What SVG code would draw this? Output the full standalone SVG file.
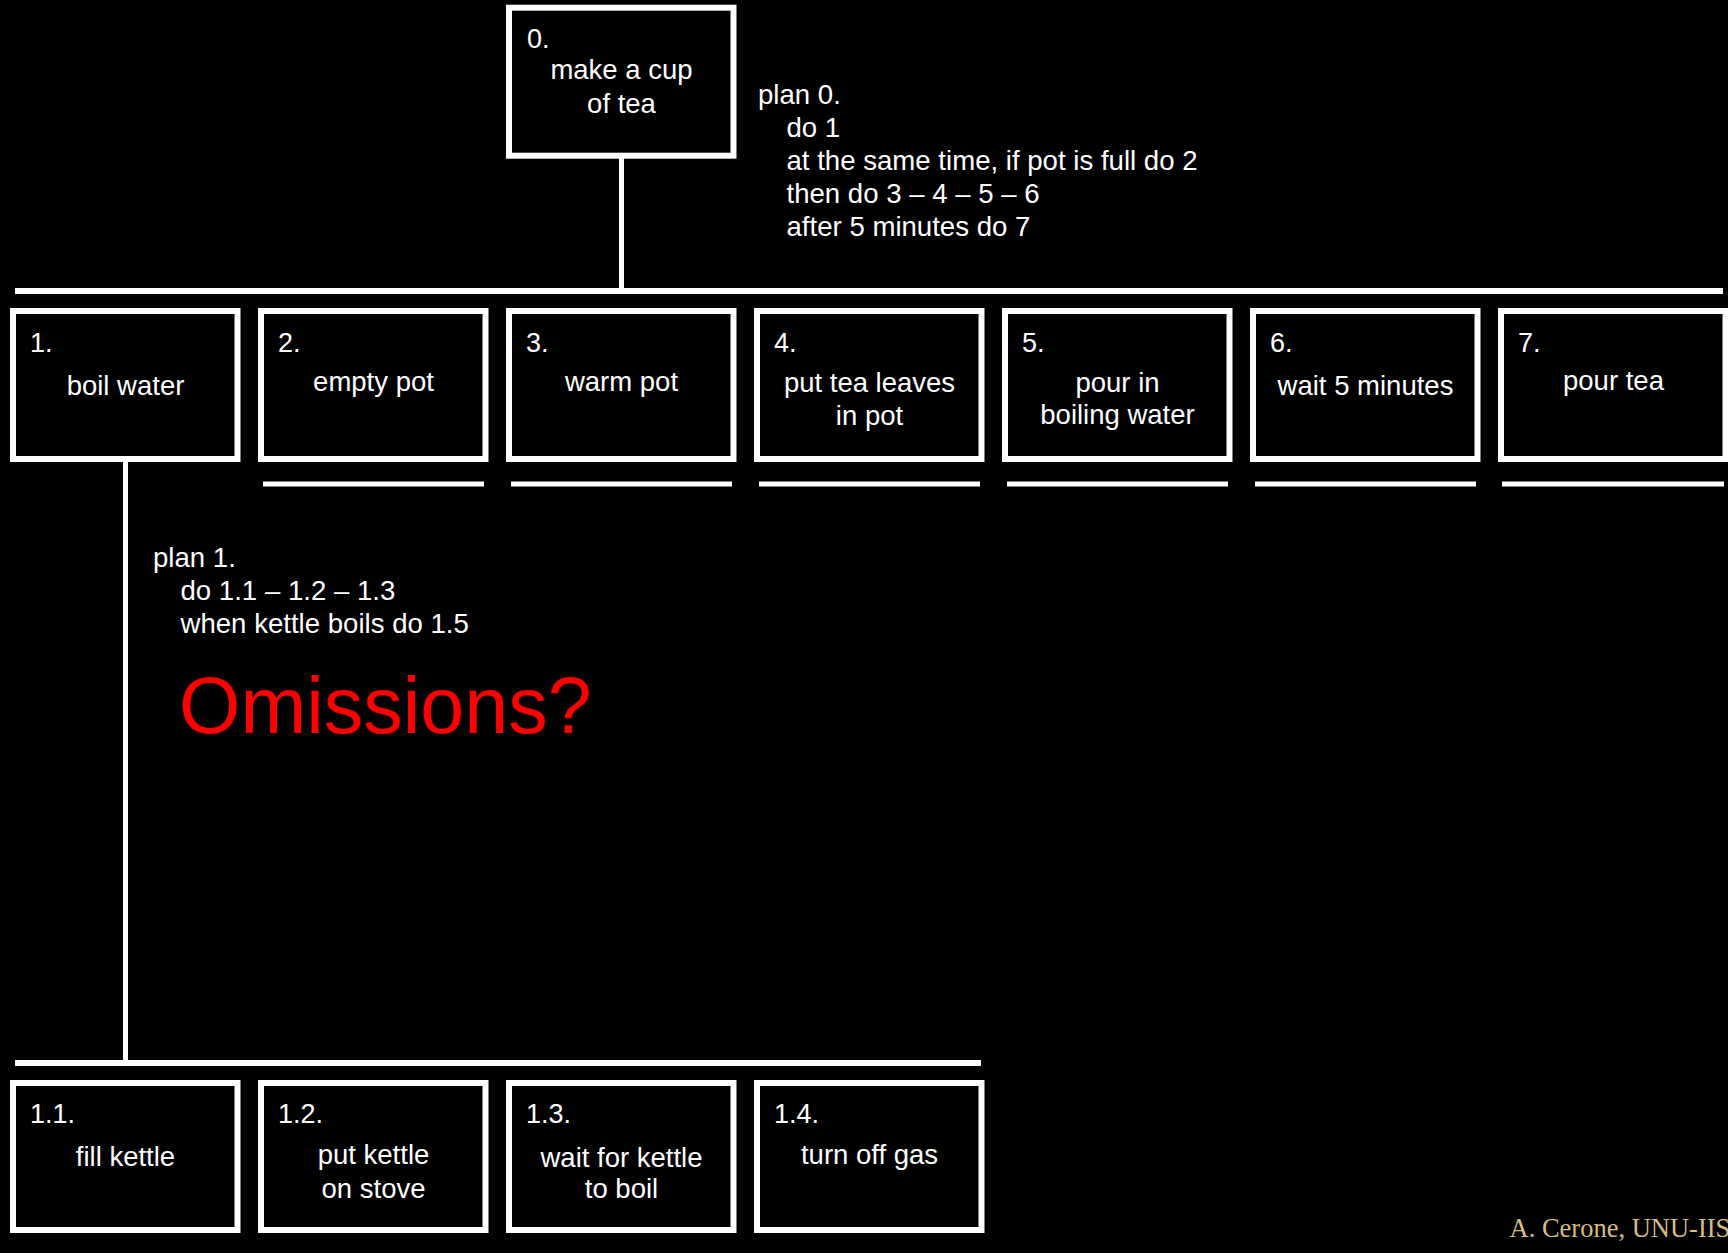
<svg xmlns="http://www.w3.org/2000/svg" width="1728" height="1253" viewBox="0 0 1728 1253">
  <style>
    .box { fill: #000; stroke: #fff; stroke-width: 6; }
    .wire { stroke: #fff; fill: none; }
    .num { font-family: "Liberation Sans", Arial, sans-serif; font-size: 27px; fill: #fff; }
    .lbl { font-family: "Liberation Sans", Arial, sans-serif; font-size: 27.5px; fill: #fff; text-anchor: middle; }
    .plan { font-family: "Liberation Sans", Arial, sans-serif; font-size: 27.6px; fill: #fff; }
    .shout { font-family: "Liberation Sans", Arial, sans-serif; font-size: 79px; fill: #ff0000; }
    .credit { font-family: "Liberation Serif", "Times New Roman", serif; font-size: 26.5px; fill: #d8bc84; }
  </style>

  <rect x="0" y="0" width="1728" height="1253" fill="#000"/>

  <!-- hierarchy lines -->
  <g id="connectors" class="wire">
    <line x1="621.5" y1="158" x2="621.5" y2="291" stroke-width="5"/>
    <line x1="15" y1="291" x2="1723" y2="291" stroke-width="6"/>
    <line x1="125.5" y1="461" x2="125.5" y2="1063" stroke-width="5"/>
    <line x1="15" y1="1063" x2="981" y2="1063" stroke-width="6"/>
    <!-- leaf markers under tasks 2-7 -->
    <line x1="263" y1="484" x2="484" y2="484" stroke-width="5"/>
    <line x1="511" y1="484" x2="732" y2="484" stroke-width="5"/>
    <line x1="759" y1="484" x2="980" y2="484" stroke-width="5"/>
    <line x1="1007" y1="484" x2="1228" y2="484" stroke-width="5"/>
    <line x1="1255" y1="484" x2="1476" y2="484" stroke-width="5"/>
    <line x1="1502" y1="484" x2="1724" y2="484" stroke-width="5"/>
  </g>

  <!-- root task -->
  <g id="task-0">
    <rect class="box" x="509" y="7.7" width="224.5" height="148"/>
    <text class="num" x="527" y="48">0.</text>
    <text class="lbl" x="621.5" y="79">make a cup</text>
    <text class="lbl" x="621.5" y="113">of tea</text>
  </g>

  <!-- sub-tasks of 0 -->
  <g id="task-1">
    <rect class="box" x="13" y="311" width="224.5" height="148"/>
    <text class="num" x="30" y="352">1.</text>
    <text class="lbl" x="125.5" y="395">boil water</text>
  </g>
  <g id="task-2">
    <rect class="box" x="261" y="311" width="224.5" height="148"/>
    <text class="num" x="278" y="352">2.</text>
    <text class="lbl" x="373.5" y="391">empty pot</text>
  </g>
  <g id="task-3">
    <rect class="box" x="509" y="311" width="224.5" height="148"/>
    <text class="num" x="526" y="352">3.</text>
    <text class="lbl" x="621.5" y="391">warm pot</text>
  </g>
  <g id="task-4">
    <rect class="box" x="757" y="311" width="224.5" height="148"/>
    <text class="num" x="774" y="352">4.</text>
    <text class="lbl" x="869.5" y="391.5">put tea leaves</text>
    <text class="lbl" x="869.5" y="425">in pot</text>
  </g>
  <g id="task-5">
    <rect class="box" x="1005" y="311" width="224.5" height="148"/>
    <text class="num" x="1022" y="352">5.</text>
    <text class="lbl" x="1117.5" y="391.5">pour in</text>
    <text class="lbl" x="1117.5" y="424">boiling water</text>
  </g>
  <g id="task-6">
    <rect class="box" x="1253" y="311" width="224.5" height="148"/>
    <text class="num" x="1270" y="352">6.</text>
    <text class="lbl" x="1365.5" y="395">wait 5 minutes</text>
  </g>
  <g id="task-7">
    <rect class="box" x="1501" y="311" width="224.5" height="148"/>
    <text class="num" x="1518" y="352">7.</text>
    <text class="lbl" x="1613.5" y="390">pour tea</text>
  </g>

  <!-- sub-tasks of 1 -->
  <g id="task-1-1">
    <rect class="box" x="13" y="1083" width="224.5" height="147"/>
    <text class="num" x="30" y="1123">1.1.</text>
    <text class="lbl" x="125.5" y="1166">fill kettle</text>
  </g>
  <g id="task-1-2">
    <rect class="box" x="261" y="1083" width="224.5" height="147"/>
    <text class="num" x="278" y="1123">1.2.</text>
    <text class="lbl" x="373.5" y="1163.5">put kettle</text>
    <text class="lbl" x="373.5" y="1198">on stove</text>
  </g>
  <g id="task-1-3">
    <rect class="box" x="509" y="1083" width="224.5" height="147"/>
    <text class="num" x="526" y="1123">1.3.</text>
    <text class="lbl" x="621.5" y="1166.5">wait for kettle</text>
    <text class="lbl" x="621.5" y="1198">to boil</text>
  </g>
  <g id="task-1-4">
    <rect class="box" x="757" y="1083" width="224.5" height="147"/>
    <text class="num" x="774" y="1123">1.4.</text>
    <text class="lbl" x="869.5" y="1163.5">turn off gas</text>
  </g>

  <!-- plans -->
  <g id="plan-0" class="plan">
    <text x="758" y="104">plan 0.</text>
    <text x="786.5" y="137">do 1</text>
    <text x="786.5" y="170">at the same time, if pot is full do 2</text>
    <text x="786.5" y="203">then do 3 – 4 – 5 – 6</text>
    <text x="786.5" y="236">after 5 minutes do 7</text>
  </g>
  <g id="plan-1" class="plan">
    <text x="153" y="567">plan 1.</text>
    <text x="180.5" y="600">do 1.1 – 1.2 – 1.3</text>
    <text x="180.5" y="633">when kettle boils do 1.5</text>
  </g>

  <text id="question" class="shout" x="179" y="733">Omissions?</text>

  <text id="credit" class="credit" x="1509.5" y="1237">A. Cerone, UNU-IIST</text>
</svg>
